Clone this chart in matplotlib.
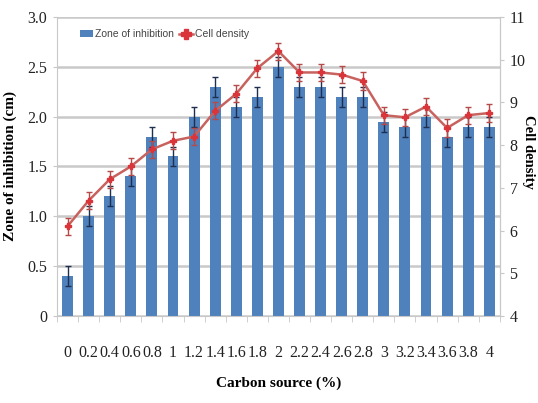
import matplotlib
matplotlib.use("Agg")
import matplotlib.pyplot as plt
import numpy as np
from matplotlib.lines import Line2D
from matplotlib.patches import Patch

# Carbon source concentration (%) and measured responses
carbon_labels = ["0", "0.2", "0.4", "0.6", "0.8", "1", "1.2", "1.4", "1.6", "1.8", "2",
                 "2.2", "2.4", "2.6", "2.8", "3", "3.2", "3.4", "3.6", "3.8", "4"]
zone_inhibition = [0.4, 1.0, 1.2, 1.4, 1.8, 1.6, 2.0, 2.3, 2.1, 2.2, 2.5,
                   2.3, 2.3, 2.2, 2.2, 1.95, 1.9, 2.0, 1.8, 1.9, 1.9]
zone_err = [0.1] * 21
cell_density = [6.1, 6.7, 7.2, 7.5, 7.9, 8.1, 8.2, 8.8, 9.2, 9.8, 10.2,
                9.7, 9.7, 9.65, 9.5, 8.7, 8.65, 8.9, 8.4, 8.7, 8.75]
density_err = [0.2] * 21

serif = ["Liberation Serif", "DejaVu Serif"]
narrow = ["Liberation Sans Narrow", "Liberation Sans", "DejaVu Sans"]

fig = plt.figure(figsize=(5.38, 4.03), dpi=100)
ax = fig.add_axes([0.106, 0.216, 0.823, 0.742])
x = np.arange(len(carbon_labels))

bar_color = "#4F81BD"
line_color = "#C8625E"
marker_color = "#D9353A"

ax.bar(x, zone_inhibition, width=0.52, color=bar_color, zorder=2)
ax.errorbar(x, zone_inhibition, yerr=zone_err, fmt="none", ecolor="#1F2F4F",
            elinewidth=1.0, capsize=2, capthick=1.0, zorder=3)

ax.set_ylim(0, 3.0)
ax.set_xlim(-0.5, len(x) - 0.5)
ax.set_yticks([0, 0.5, 1.0, 1.5, 2.0, 2.5, 3.0])
ax.set_yticklabels(["0", "0.5", "1.0", "1.5", "2.0", "2.5", "3.0"],
                   family=serif, fontsize=11.5, color="#222222")
ax.set_xticks(x)
ax.set_xticklabels(carbon_labels, family=serif, fontsize=11.5, color="#222222")
ax.set_xticks(np.arange(-0.5, len(x), 1), minor=True)
ax.tick_params(axis="x", which="major", length=0, pad=21)
ax.tick_params(axis="x", which="minor", length=4, color="#C8C8C8")
ax.tick_params(axis="y", length=3, color="#C8C8C8", pad=4)
ax.yaxis.grid(True, color="#C9C9C9", linewidth=1.8, zorder=0)
ax.set_axisbelow(True)
ax.spines["top"].set_visible(False)
for side in ["left", "right", "bottom"]:
    ax.spines[side].set_color("#C8C8C8")

ax.set_ylabel("Zone of inhibition (cm)", family=serif, fontsize=11,
              fontweight="bold")
ax.yaxis.set_label_coords(-0.09, 0.5)
ax.set_xlabel("Carbon source (%)", family=serif, fontsize=11,
              fontweight="bold", labelpad=11)

ax2 = ax.twinx()
ax2.plot(x, cell_density, color=line_color, linewidth=1.8, zorder=4)
ax2.errorbar(x, cell_density, yerr=density_err, fmt="none", ecolor="#B54A48",
             elinewidth=1.0, capsize=2, capthick=1.0, zorder=4)
ax2.plot(x, cell_density, linestyle="none", marker="P", markersize=5,
         color=marker_color, zorder=5)
ax2.set_ylim(4, 11)
ax2.set_yticks(range(4, 12))
ax2.set_yticklabels([str(v) for v in range(4, 12)], family=serif,
                    fontsize=11.5, color="#222222")
ax2.tick_params(axis="y", length=3, color="#C8C8C8", pad=4)
for side in ["top", "left", "bottom"]:
    ax2.spines[side].set_visible(False)
ax2.spines["right"].set_color("#C8C8C8")
ax2.set_ylabel("Cell density", family=serif, fontsize=10.5, fontweight="bold",
               rotation=270, ha="center", va="center")
ax2.yaxis.set_label_coords(1.064, 0.55)

handles = [Patch(facecolor=bar_color, edgecolor="none"),
           Line2D([0], [0], color=line_color, linewidth=1.8, marker="P",
                  markersize=7, markerfacecolor=marker_color,
                  markeredgecolor=marker_color)]
ax.legend(handles, ["Zone of inhibition", "Cell density"], loc="upper left",
          bbox_to_anchor=(0.03, 0.99), ncol=2, frameon=False,
          prop={"family": narrow, "size": 7.5}, handlelength=1.3,
          handletextpad=0.2, columnspacing=0.5, labelcolor="#444444")

fig.savefig("out.png", dpi=100)
